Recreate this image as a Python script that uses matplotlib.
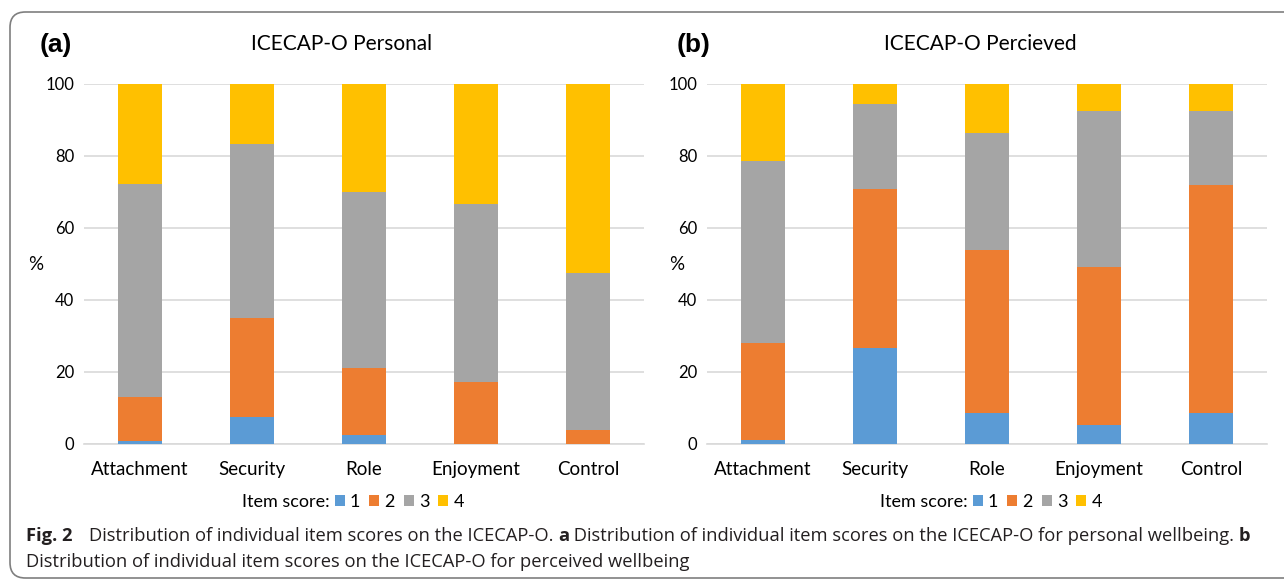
import matplotlib
matplotlib.use("Agg")
import matplotlib.pyplot as plt
import numpy as np
from matplotlib.patches import FancyBboxPatch, Patch

categories = ["Attachment", "Security", "Role", "Enjoyment", "Control"]
score_labels = ["1", "2", "3", "4"]
colors = ["#5b9bd5", "#ed7d31", "#a5a5a5", "#ffc000"]

# Personal (segment sizes)
personal_1 = [0.7, 7.4, 2.6, 0.0, 0.0]
personal_2 = [12.4, 27.7, 18.6, 17.1, 3.9]
personal_3 = [59.0, 48.2, 48.9, 49.7, 43.7]
personal_4 = [27.9, 16.7, 29.9, 33.2, 52.4]

# Perceived (segment sizes)
perceived_1 = [1.2, 26.6, 8.7, 5.4, 8.7]
perceived_2 = [26.8, 44.1, 45.3, 43.9, 63.2]
perceived_3 = [50.5, 23.8, 32.5, 43.3, 20.7]
perceived_4 = [21.5, 5.5, 13.5, 7.4, 7.4]

yticks = [0, 20, 40, 60, 80, 100]

plt.rcParams["font.family"] = ["Lato", "DejaVu Sans"]

W, H = 1284, 582
fig = plt.figure(figsize=(W / 100, H / 100), dpi=100)

# border
border = FancyBboxPatch((10 / W, 4 / H), 1.2, (H - 16) / H,
                        boxstyle="round,pad=0,rounding_size=0.012",
                        transform=fig.transFigure, facecolor="none",
                        edgecolor="#7f7f7f", linewidth=1.2, mutation_aspect=W / H)
fig.patches.append(border)


def draw(ax_rect, series, title, tag, tag_x, title_x, legend_x, pct_x):
    ax = fig.add_axes(ax_rect)
    x = np.arange(len(categories))
    bottom = np.zeros(len(categories))
    handles = []
    for vals, c, lab in zip(series, colors, score_labels):
        ax.bar(x, vals, bottom=bottom, width=0.39, color=c, zorder=3, label=lab)
        bottom += np.array(vals)
        handles.append(Patch(facecolor=c, label=lab))
    ax.set_xlim(-0.5, len(categories) - 0.5)
    ax.set_ylim(0, 100)
    ax.set_yticks(yticks)
    ax.set_xticks(x)
    ax.set_xticklabels(categories, fontsize=13.5)
    ax.tick_params(axis="y", labelsize=12, length=0, pad=7)
    ax.tick_params(axis="x", length=0, pad=12)
    ax.grid(axis="y", color="#d9d9d9", linewidth=1.2, zorder=0)
    for s in ["top", "right", "left"]:
        ax.spines[s].set_visible(False)
    ax.spines["bottom"].set_color("#d9d9d9")
    ax.spines["bottom"].set_linewidth(1.2)
    ax.set_ylabel("%", rotation=0, fontsize=13.5, va="center", ha="center")
    ax.yaxis.set_label_coords(pct_x, 0.5)
    fig.text(tag_x / W, 1 - 45 / H, tag, fontsize=19, fontweight="bold",
             family=["Liberation Sans", "DejaVu Sans"], ha="left", va="center")
    fig.text(title_x / W, 1 - 44 / H, title, fontsize=15, ha="center", va="center")
    fig.text(legend_x / W, 1 - 502 / H, "Item score:", fontsize=13,
             ha="left", va="center")
    fig.legend(handles=handles, loc="center left",
               bbox_to_anchor=((legend_x + 93) / W, 1 - 502 / H),
               ncol=4, frameon=False, fontsize=13, handlelength=0.55,
               handleheight=0.55, handletextpad=0.28, columnspacing=0.5,
               borderpad=0, borderaxespad=0)
    return ax


draw([84 / W, 138 / H, 560 / W, 360 / H],
     [personal_1, personal_2, personal_3, personal_4],
     "ICECAP-O Personal", "(a)", 40, 342, 242, (36 - 84) / 560)
draw([707 / W, 138 / H, 560 / W, 360 / H],
     [perceived_1, perceived_2, perceived_3, perceived_4],
     "ICECAP-O Percieved", "(b)", 677, 980, 880, (677 - 707) / 560)

cap_font = ["Open Sans", "DejaVu Sans"]
cap_size = 13.2
cap_color = "#231f20"
y1 = 1 - 536 / H
y2 = 1 - 562 / H

renderer = fig.canvas.get_renderer()


def chain(x_px, y, pieces):
    for txt, bold in pieces:
        t = fig.text(x_px / W, y, txt, fontsize=cap_size,
                     fontweight="bold" if bold else "normal",
                     family=cap_font, ha="left", va="center", color=cap_color)
        bb = t.get_window_extent(renderer=renderer)
        x_px = bb.x1


fig.text(26 / W, y1, "Fig. 2", fontsize=cap_size, fontweight="bold",
         family=cap_font, ha="left", va="center", color=cap_color)
chain(89, y1, [
    ("Distribution of individual item scores on the ICECAP-O. ", False),
    ("a", True),
    (" Distribution of individual item scores on the ICECAP-O for personal wellbeing. ", False),
    ("b", True),
])
fig.text(26 / W, y2,
         "Distribution of individual item scores on the ICECAP-O for perceived wellbeing",
         fontsize=cap_size, family=cap_font, ha="left", va="center", color=cap_color)

fig.savefig("out.png", dpi=100)
